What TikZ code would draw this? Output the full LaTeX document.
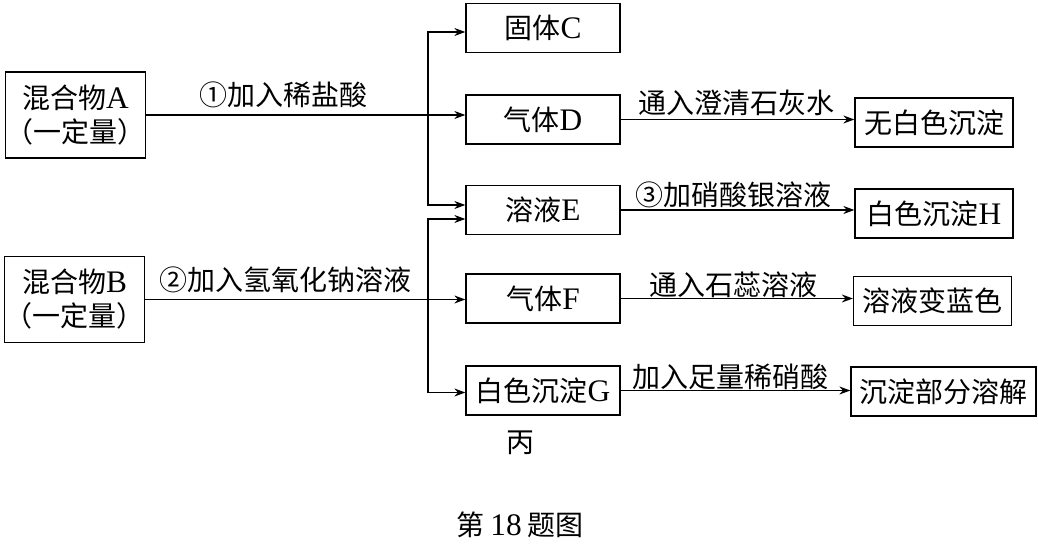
\documentclass[tikz,border=0pt]{standalone}
\usepackage{fontspec}
\setmainfont{Noto Sans CJK SC}
\newfontfamily\latinfont[Scale=1.12]{Liberation Serif}
\newcommand{\latn}[1]{{\latinfont #1}}
\usetikzlibrary{arrows.meta,positioning,calc}

\begin{document}
\begin{tikzpicture}[
    x=1pt, y=-1pt,
    every node/.style={font=\fontsize{28}{34}\selectfont, inner sep=0pt},
    box/.style={rectangle, draw, line width=1.3pt, minimum width=154pt, minimum height=49pt},
    mixbox/.style={box, minimum width=139pt, minimum height=86pt, align=center},
    resbox/.style={box, minimum width=158pt},
    arr/.style={-{Stealth[length=11pt,width=8pt]}, line width=1.3pt},
]
    \useasboundingbox (0,0) rectangle (1038,545);

    % MIXTURES (left)
    \node[mixbox] (mA) at (75.5,115) {混合物\latn{A}\\（一定量）};
    \node[mixbox] (mB) at (74.5,299.5) {混合物\latn{B}\\（一定量）};

    % PRODUCTS (middle)
    \node[box] (sC) at (543,28) {固体\latn{C}};
    \node[box] (gD) at (543,119.5) {气体\latn{D}};
    \node[box] (sE) at (543,210) {溶液\latn{E}};
    \node[box] (gF) at (543,298.5) {气体\latn{F}};
    \node[box] (pG) at (543,390.5) {白色沉淀\latn{G}};

    % RESULTS (right)
    \node[resbox] (r1) at (934,122.5) {无白色沉淀};
    \node[resbox] (r2) at (934,213.5) {白色沉淀\latn{H}};
    \node[resbox] (r3) at (932.5,301) {溶液变蓝色};
    \node[resbox, minimum width=185pt] (r4) at (943.5,391.5) {沉淀部分溶解};

    % branch from A
    \coordinate (jA) at (428,115);
    \draw[arr] (mA.east) -- (mA.east -| gD.west);
    \draw[arr] (jA) |- ([yshift=-4pt]sC.west);
    \draw[arr] (jA) |- ([yshift=5pt]sE.west);
    \node at (283,95) {①加入稀盐酸};

    % branch from B
    \coordinate (jB) at (428,299.5);
    \draw[arr] (mB.east) -- (mB.east -| gF.west);
    \draw[arr] (jB) |- ([yshift=-9pt]sE.west);
    \draw[arr] (jB) |- ([yshift=-2pt]pG.west);
    \node at (285,280) {②加入氢氧化钠溶液};

    % tests
    \draw[arr] (gD.east) -- (gD.east -| r1.west);
    \node at (736,103) {通入澄清石灰水};
    \draw[arr] (sE.east) -- (sE.east -| r2.west);
    \node at (733,195) {③加硝酸银溶液};
    \draw[arr] (gF.east) -- (gF.east -| r3.west);
    \node at (733,285) {通入石蕊溶液};
    \draw[arr] (pG.east) -- (pG.east -| r4.west);
    \node at (730,377) {加入足量稀硝酸};

    \node (fig) at (520,443) {丙};
    \node (cap) at (520,525) {第 \latn{18} 题图};
\end{tikzpicture}
\end{document}
